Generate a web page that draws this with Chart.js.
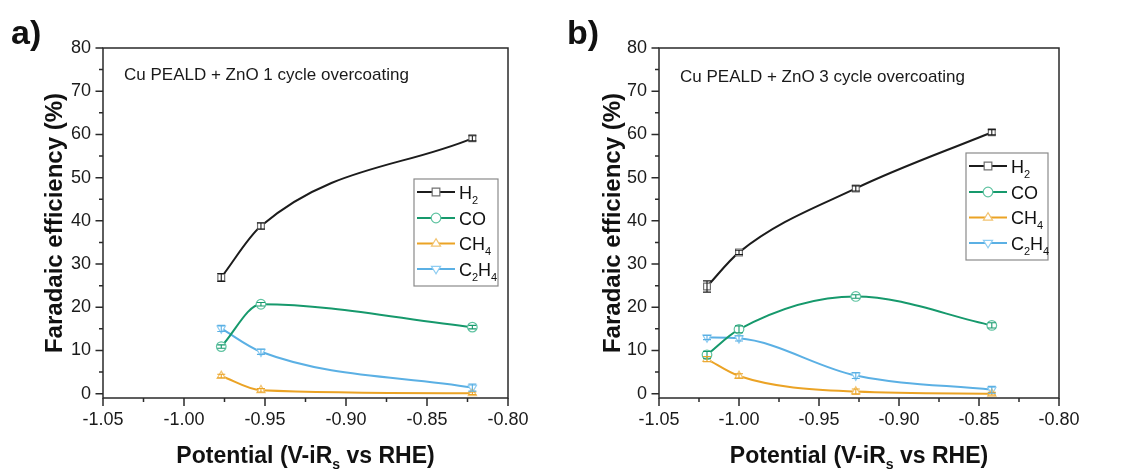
<!DOCTYPE html>
<html>
<head>
<meta charset="utf-8">
<script src="https://cdn.jsdelivr.net/npm/chart.js"></script>
<style>
  body { margin: 0; background: #fff; width: 1129px; height: 471px; position: relative; overflow: hidden; }
  canvas { position: absolute; top: 0; }
  #chartA { left: 0; }
  #chartB { left: 560px; }
</style>
</head>
<body>
<canvas id="chartA" width="580" height="471"></canvas>
<canvas id="chartB" width="569" height="471"></canvas>
<script>
// panel a) ZnO 1 cycle overcoating
const potA = [-0.977, -0.9525, -0.822];
const h2A = [26.9, 38.8, 59.1];
const coA = [10.9, 20.7, 15.4];
const ch4A = [4.1, 0.8, 0.1];
const c2h4A = [15.1, 9.7, 1.4];
const h2AErr = [0.9, 0.7, 0.6];
const coAErr = [0.4, 0.4, 0.4];
const ch4AErr = [0.4, 0.4, 0.3];
const c2h4AErr = [0.7, 0.6, 0.8];

// panel b) ZnO 3 cycle overcoating
const potB = [-1.020, -1.000, -0.927, -0.842];
const h2B = [24.8, 32.7, 47.5, 60.5];
const coB = [9.0, 14.9, 22.5, 15.8];
const ch4B = [8.0, 4.1, 0.5, 0.0];
const c2h4B = [13.0, 12.8, 4.2, 0.9];
const h2BErr = [1.3, 0.5, 0.6, 0.6];
const coBErr = [0.8, 0.8, 0.4, 0.6];
const ch4BErr = [0.6, 0.5, 0.6, 0.3];
const c2h4BErr = [0.5, 0.6, 0.7, 0.8];

const names = ['H2', 'CO', 'CH4', 'C2H4'];
const xTicks = [-1.05, -1.00, -0.95, -0.90, -0.85, -0.80];
const yTicks = [0, 10, 20, 30, 40, 50, 60, 70, 80];

const FONT = "'Liberation Sans', Arial, sans-serif";
const lineCol = ['#1c1c1c', '#16996c', '#eba325', '#5bb0e4'];
const markCol = ['#707070', '#5fc3a1', '#f2c471', '#8fcdf2'];
const shapes = ['rect', 'circle', 'triangle', 'triangle'];

function makeSets(pot, series, errs) {
  return series.map((s, k) => ({
    label: names[k],
    data: pot.map((x, i) => ({x: x, y: s[i]})),
    errors: errs[k],
    borderColor: lineCol[k],
    borderWidth: 2,
    cubicInterpolationMode: 'monotone',
    fill: false,
    clip: false,
    pointStyle: shapes[k],
    pointRotation: k === 3 ? 180 : 0,
    pointRadius: 4.8,
    pointBorderWidth: 1.2,
    pointBorderColor: markCol[k],
    pointBackgroundColor: '#ffffff'
  }));
}

// text with digit subscripts (or explicit parts)
function drawParts(ctx, parts, x, y, size, weight, align) {
  const sub = Math.round(size * 0.6);
  let total = 0;
  parts.forEach(p => {
    ctx.font = weight + ' ' + (p[1] ? sub : size) + 'px ' + FONT;
    total += ctx.measureText(p[0]).width;
  });
  let cx = align === 'center' ? x - total / 2 : x;
  ctx.textAlign = 'left';
  ctx.textBaseline = 'alphabetic';
  parts.forEach(p => {
    ctx.font = weight + ' ' + (p[1] ? sub : size) + 'px ' + FONT;
    ctx.fillText(p[0], cx, p[1] ? y + size * 0.28 : y);
    cx += ctx.measureText(p[0]).width;
  });
}
function chemParts(s) {
  return s.split('').map(c => [c, /[0-9]/.test(c)]);
}

function drawMarker(ctx, k, cx, cy) {
  ctx.save();
  ctx.fillStyle = '#fff';
  ctx.strokeStyle = markCol[k];
  ctx.lineWidth = 1.2;
  ctx.beginPath();
  const r = 4.8;
  if (k === 0) ctx.rect(cx - r * 0.8, cy - r * 0.8, r * 1.6, r * 1.6);
  else if (k === 1) ctx.arc(cx, cy, r, 0, Math.PI * 2);
  else {
    const d = k === 2 ? -1 : 1;
    ctx.moveTo(cx, cy + d * r);
    ctx.lineTo(cx - r * 0.95, cy - d * r * 0.55);
    ctx.lineTo(cx + r * 0.95, cy - d * r * 0.55);
    ctx.closePath();
  }
  ctx.fill();
  ctx.stroke();
  ctx.restore();
}

const errorBars = {
  id: 'errorBars',
  afterDatasetsDraw(chart) {
    const ctx = chart.ctx;
    const y = chart.scales.y;
    ctx.save();
    chart.data.datasets.forEach((ds, k) => {
      const meta = chart.getDatasetMeta(k);
      ctx.strokeStyle = ds.borderColor;
      ctx.lineWidth = 1.1;
      meta.data.forEach((pt, i) => {
        const e = ds.errors[i];
        const v = ds.data[i].y;
        const y1 = y.getPixelForValue(v + e), y2 = y.getPixelForValue(v - e);
        ctx.beginPath();
        ctx.moveTo(pt.x, y1); ctx.lineTo(pt.x, y2);
        ctx.moveTo(pt.x - 4, y1); ctx.lineTo(pt.x + 4, y1);
        ctx.moveTo(pt.x - 4, y2); ctx.lineTo(pt.x + 4, y2);
        ctx.stroke();
      });
    });
    ctx.restore();
  }
};

const decor = {
  id: 'decor',
  afterDraw(chart, args, o) {
    const {ctx, chartArea: a, scales: {x, y}} = chart;
    ctx.save();
    // frame and outward ticks
    ctx.strokeStyle = '#2a2a2a';
    ctx.lineWidth = 1.5;
    ctx.strokeRect(a.left, a.top, a.right - a.left, a.bottom - a.top);
    ctx.beginPath();
    for (let i = 0; i < xTicks.length; i++) {
      const px = x.getPixelForValue(xTicks[i]);
      ctx.moveTo(px, a.bottom); ctx.lineTo(px, a.bottom + 8);
      if (i < xTicks.length - 1) {
        const mx = x.getPixelForValue((xTicks[i] + xTicks[i + 1]) / 2);
        ctx.moveTo(mx, a.bottom); ctx.lineTo(mx, a.bottom + 4);
      }
    }
    for (let i = 0; i < yTicks.length; i++) {
      const py = y.getPixelForValue(yTicks[i]);
      ctx.moveTo(a.left, py); ctx.lineTo(a.left - 7.5, py);
      if (i < yTicks.length - 1) {
        const my = y.getPixelForValue((yTicks[i] + yTicks[i + 1]) / 2);
        ctx.moveTo(a.left, my); ctx.lineTo(a.left - 4, my);
      }
    }
    ctx.stroke();

    ctx.fillStyle = '#111';
    // panel letter
    ctx.font = 'bold 34px ' + FONT;
    ctx.textAlign = 'left';
    ctx.textBaseline = 'alphabetic';
    ctx.fillText(o.panel, o.panelX, 44);

    // note
    ctx.font = '17px ' + FONT;
    ctx.textBaseline = 'middle';
    ctx.fillStyle = '#1a1a1a';
    ctx.fillText(o.note, a.left + 21, o.noteY);

    // x title with subscript
    ctx.fillStyle = '#111';
    drawParts(ctx, [['Potential (V-iR', false], ['s', true], [' vs RHE)', false]],
      (a.left + a.right) / 2, 463, 23, 'bold', 'center');

    // legend
    const lx = a.left + o.legX, ly = a.top + o.legY;
    ctx.strokeStyle = '#8a8a8a';
    ctx.lineWidth = 1.2;
    ctx.strokeRect(lx, ly, o.legW, 107);
    const rows = [13, 39, 64.5, 90];
    names.forEach((n, k) => {
      const ry = ly + rows[k];
      ctx.strokeStyle = lineCol[k];
      ctx.lineWidth = 2;
      ctx.beginPath();
      ctx.moveTo(lx + 3, ry); ctx.lineTo(lx + 41, ry);
      ctx.stroke();
      drawMarker(ctx, k, lx + 22, ry);
      ctx.fillStyle = '#111';
      drawParts(ctx, chemParts(n), lx + 45, ry + 6.5, 18, 'normal', 'left');
    });
    ctx.restore();
  }
};

function makeChart(id, pot, series, errs, opt) {
  return new Chart(document.getElementById(id), {
    type: 'line',
    data: {datasets: makeSets(pot, series, errs)},
    options: {
      responsive: false,
      animation: false,
      layout: {padding: {left: 0, top: 48, right: opt.padRight, bottom: 0}},
      plugins: {
        legend: {display: false},
        tooltip: {enabled: false},
        decor: opt.decor
      },
      scales: {
        x: {
          type: 'linear',
          min: -1.05, max: -0.80,
          grid: {display: false, drawTicks: false},
          border: {display: false},
          afterBuildTicks: s => { s.ticks = xTicks.map(v => ({value: v})); },
          ticks: {
            padding: 11,
            color: '#1a1a1a',
            font: {family: FONT, size: 18},
            callback: v => Number(v).toFixed(2)
          },
          afterFit: s => { s.height = 73; }
        },
        y: {
          min: -1, max: 80,
          grid: {display: false, drawTicks: false},
          border: {display: false},
          afterBuildTicks: s => { s.ticks = yTicks.map(v => ({value: v})); },
          ticks: {
            padding: 12,
            color: '#1a1a1a',
            font: {family: FONT, size: 18}
          },
          title: {
            display: true,
            text: 'Faradaic efficiency (%)',
            color: '#111',
            font: {family: FONT, size: 24, weight: 'bold'},
            padding: {top: opt.titlePad, bottom: 0}
          },
          afterFit: s => { s.width = opt.yWidth; }
        }
      }
    },
    plugins: [errorBars, decor]
  });
}

makeChart('chartA', potA, [h2A, coA, ch4A, c2h4A], [h2AErr, coAErr, ch4AErr, c2h4AErr], {
  padRight: 72, yWidth: 103, titlePad: 41,
  decor: {panel: 'a)', panelX: 11, note: 'Cu PEALD + ZnO 1 cycle overcoating', noteY: 75,
          legX: 311, legY: 131, legW: 84}
});
makeChart('chartB', potB, [h2B, coB, ch4B, c2h4B], [h2BErr, coBErr, ch4BErr, c2h4BErr], {
  padRight: 70, yWidth: 99, titlePad: 39,
  decor: {panel: 'b)', panelX: 7, note: 'Cu PEALD + ZnO 3 cycle overcoating', noteY: 77,
          legX: 307, legY: 105, legW: 82}
});
</script>
</body>
</html>
